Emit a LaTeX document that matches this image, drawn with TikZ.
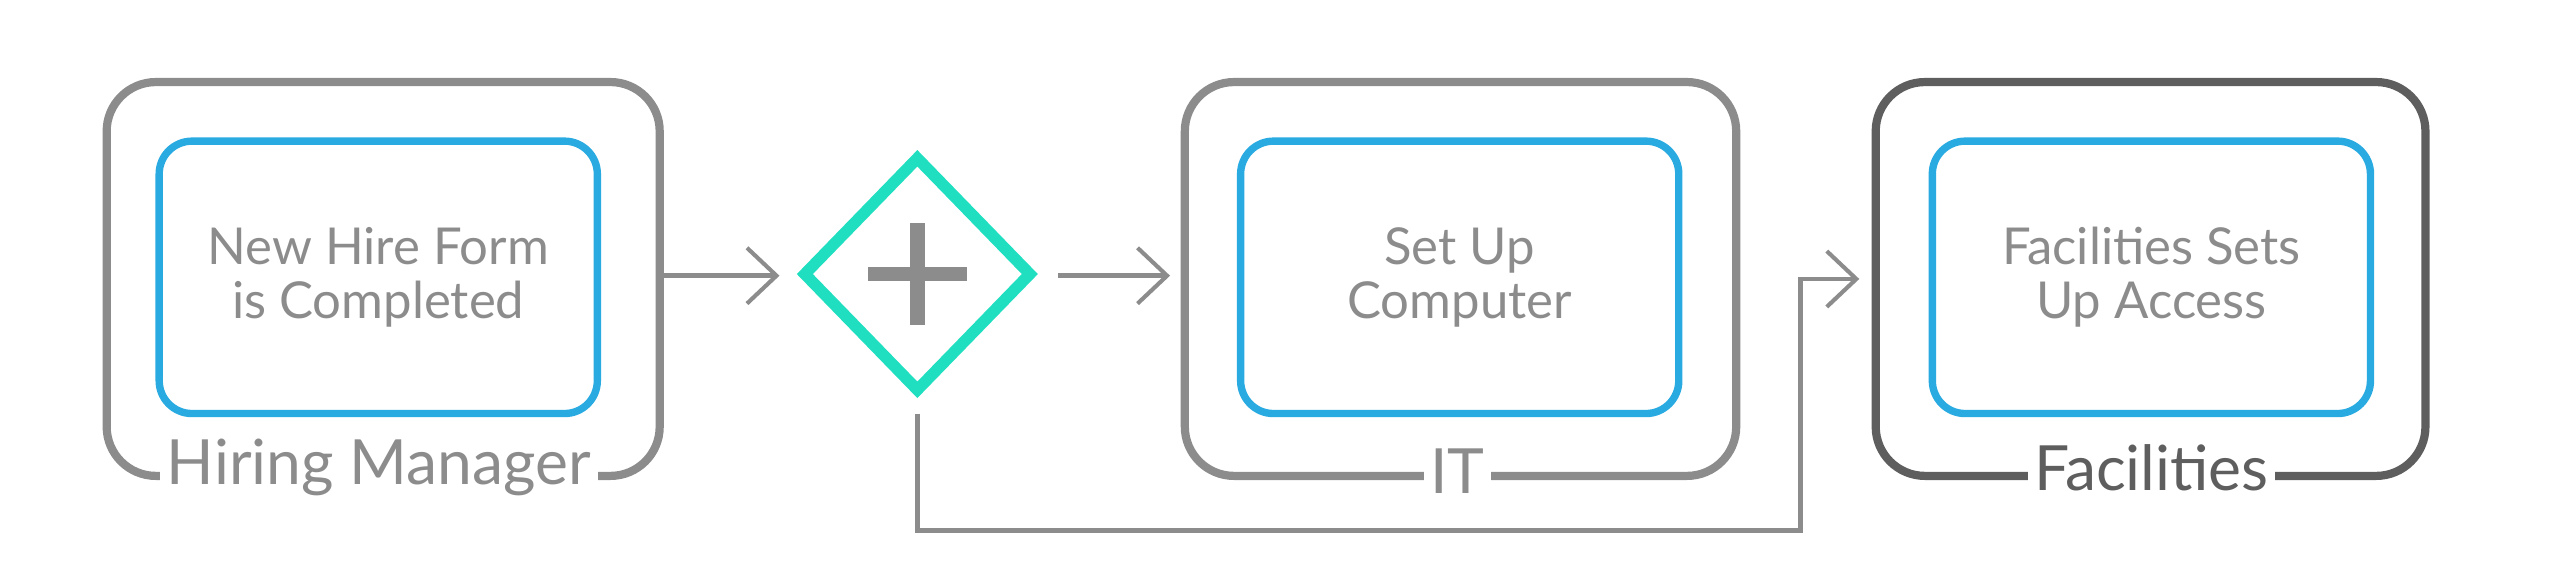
\documentclass[tikz,border=0pt]{standalone}
\usepackage{fontspec}
\setmainfont{Lato}
\usepackage{tikz}
\usetikzlibrary{arrows.meta,shapes.geometric}
\definecolor{lanegray}{HTML}{8C8C8C}
\definecolor{darkgray}{HTML}{5E5E5E}
\definecolor{taskblue}{HTML}{29ABE2}
\definecolor{gateteal}{HTML}{1FDFC0}
\begin{document}
\begin{tikzpicture}
[x=1pt,y=-1pt
,lane/.style={draw=lanegray,line width=5pt,rounded corners=30pt}
,task/.style={draw=taskblue,line width=4.5pt,rounded corners=20pt,minimum width=267pt,minimum height=166pt,
  align=center,text=lanegray,font=\fontsize{31}{33}\selectfont}
,lab/.style={fill=white,text=lanegray,inner sep=4pt,font=\fontsize{38}{42}\selectfont}
,flow/.style={draw=lanegray,line width=3pt,arrows={-Straight Barb[length=18pt,width=34pt,line width=2.5pt]}}
]
\useasboundingbox (0,0) rectangle (1560,353);
% lanes
\draw[lane] (65,50) rectangle (402,290);
\draw[lane] (722,50) rectangle (1058,290);
\draw[lane,draw=darkgray] (1143,50) rectangle (1478,290);
\node[lab] (l1) at (231,285) {Hiring Manager};
\node[lab] (l2) at (888,287) {IT};
\node[lab,text=darkgray] (l3) at (1311,285) {Facilities};
% tasks
\node[task] (t1) at (230.5,169) {New Hire Form\\is Completed};
\node[task] (t2) at (889.5,169) {Set Up\\Computer};
\node[task] (t3) at (1311,169) {Facilities Sets\\Up Access};
% gateway
\node[diamond,draw=gateteal,line width=7pt,minimum width=140pt,minimum height=144pt,inner sep=0pt] (g) at (559,167) {};
\draw[lanegray,line width=9pt] (559,136) -- (559,198) (529,167) -- (589,167);
% flows
\coordinate (a1) at (475,168);
\coordinate (a2) at (713,168);
\coordinate (a3) at (1133,170);
\draw[flow] (404,168) -- (a1);
\draw[flow] (645,168) -- (a2);
\draw[flow] (559,252) |- (1097,323) |- (a3);
\end{tikzpicture}
\end{document}
